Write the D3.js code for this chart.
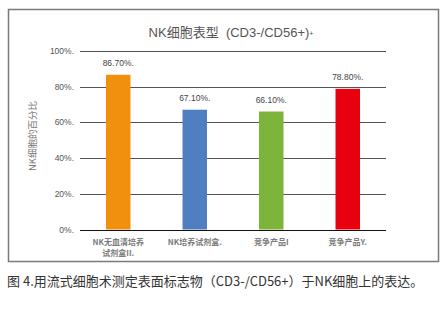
<!DOCTYPE html>
<html><head><meta charset="utf-8">
<script src="https://cdn.jsdelivr.net/npm/d3@7"></script>
<style>body{margin:0;background:#fff;}svg{display:block;}</style>
</head><body>
<script>
const categories = ["NK无血清培养|试剂盒II.", "NK培养试剂盒.", "竞争产品I", "竞争产品Y."];
const values = [86.7, 67.1, 66.1, 78.8];
const valueLabels = ["86.70%.", "67.10%.", "66.10%.", "78.80%."];
const yTicks = [0, 20, 40, 60, 80, 100];
const yTickLabels = ["0%.", "20%.", "40%.", "60%.", "80%.", "100%."];
const colors = ["#F0900E", "#4F7FC0", "#7CB43C", "#E8000E"];
const title = "NK细胞表型\u00A0\u00A0(CD3-/CD56+)";
const yTitle = "NK细胞的百分比";
const caption = "图 4.用流式细胞术测定表面标志物（CD3-/CD56+）于NK细胞上的表达。";

const W = 443, H = 325;
const svg = d3.select("body").append("svg").attr("width", W).attr("height", H);
const font = "'Liberation Sans','Noto Sans CJK SC',sans-serif";
const cjk = "'Noto Sans CJK SC',sans-serif";

// frame
svg.append("rect").attr("x", 8.5).attr("y", 9.5).attr("width", 430).attr("height", 252)
  .attr("fill", "#fff").attr("stroke", "#7a7a7a").attr("stroke-width", 1.5);

const x = d3.scaleBand().domain(categories).range([80, 386]).paddingInner(0.68).paddingOuter(0.34);
const y = d3.scaleLinear().domain([0, 100]).range([229.5, 51]);

// gridlines
svg.append("g").selectAll("line").data(yTicks).join("line")
  .attr("x1", 80).attr("x2", 386)
  .attr("y1", d => Math.round(y(d)) + 0.5).attr("y2", d => Math.round(y(d)) + 0.5)
  .attr("stroke", d => d === 0 ? "#111" : "#555").attr("stroke-width", 1);

// y tick labels
svg.append("g").selectAll("text").data(yTicks).join("text")
  .attr("x", 74).attr("y", d => y(d) + 3)
  .attr("text-anchor", "end").attr("font-family", font).attr("font-size", 8.5)
  .attr("fill", "#555").text((d, i) => yTickLabels[i]);

// bars
svg.append("g").selectAll("rect").data(values).join("rect")
  .attr("x", (d, i) => x(categories[i])).attr("width", x.bandwidth())
  .attr("y", d => y(d)).attr("height", d => y(0) - y(d))
  .attr("fill", (d, i) => colors[i]);

// value labels
svg.append("g").selectAll("text").data(values).join("text")
  .attr("x", (d, i) => x(categories[i]) + x.bandwidth() / 2)
  .attr("y", d => y(d) - 9)
  .attr("text-anchor", "middle").attr("font-family", font).attr("font-size", 8.5)
  .attr("fill", "#444").text((d, i) => valueLabels[i]);

// x labels
const xl = svg.append("g").selectAll("text").data(categories).join("text")
  .attr("x", d => x(d) + x.bandwidth() / 2)
  .attr("y", 245)
  .attr("text-anchor", "middle").attr("font-family", cjk).attr("font-size", 8)
  .attr("font-weight", "bold").attr("fill", "#7a7a7a");
xl.each(function(d) {
  const parts = d.split("|");
  const t = d3.select(this);
  parts.forEach((p, j) => t.append("tspan").attr("x", t.attr("x")).attr("dy", j === 0 ? 0 : 11).text(p));
});

// title
svg.append("text").attr("x", 231).attr("y", 37).attr("text-anchor", "middle")
  .attr("font-family", font).attr("font-size", 13).attr("fill", "#555").text(title)
  .append("tspan").attr("font-size", 7).attr("dy", -1).text("+");

// y title
svg.append("text").attr("transform", "translate(36,136) rotate(-90)")
  .attr("text-anchor", "middle").attr("font-family", cjk).attr("font-size", 9.5)
  .attr("fill", "#777").text(yTitle);

// caption
svg.append("text").attr("x", 7).attr("y", 286)
  .attr("font-family", cjk).attr("font-size", 13).attr("fill", "#333").text(caption);
</script>
</body></html>
